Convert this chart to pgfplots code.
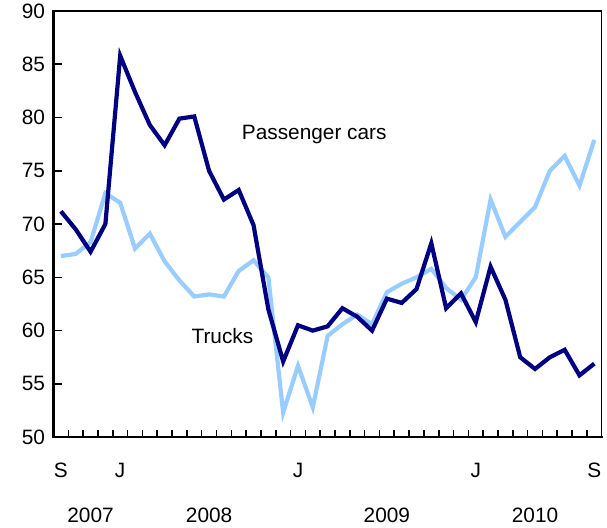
\documentclass[border=0pt]{standalone}
\usepackage{fontspec}
\setmainfont{Liberation Sans}
\usepackage{pgfplots}
\pgfplotsset{compat=1.18}
\definecolor{cars}{RGB}{0,0,128}
\definecolor{trucks}{RGB}{153,204,255}
\begin{document}
\begin{tikzpicture}
\begin{axis}[
  scale only axis,
  width=548pt, height=426pt,
  xmin=-0.5, xmax=36.5,
  ymin=50, ymax=90,
  ytick={50,55,...,90},
  xtick={0,4,16,28,36},
  xticklabels={S,J,J,J,S},
  minor xtick={0.5,1.5,...,35.5},
  major x tick style={draw=none},
  tick align=inside,
  xtick pos=bottom, ytick pos=left,
  major tick length=8pt,
  minor tick length=7pt,
  tick style={line width=1.6pt, black},
  axis line style={line width=1.3pt},
  font=\fontsize{20.8}{25}\selectfont,
  /pgf/number format/assume math mode=true,
  yticklabel style={xshift=-5pt},
  xticklabel style={yshift=-22pt},
  clip=false,
]
\addplot[trucks, line width=4.2pt] coordinates {
(0,67.0)(1,67.2)(2,68.3)(3,72.9)(4,72.0)(5,67.7)(6,69.1)(7,66.5)(8,64.7)(9,63.2)
(10,63.4)(11,63.2)(12,65.6)(13,66.6)(14,65.0)(15,52.3)(16,56.7)(17,52.8)(18,59.5)(19,60.6)
(20,61.5)(21,60.6)(22,63.6)(23,64.4)(24,65.0)(25,65.8)(26,64.0)(27,62.9)(28,65.0)(29,72.3)
(30,68.8)(31,70.2)(32,71.6)(33,75.0)(34,76.4)(35,73.6)(36,77.9)
};
\addplot[cars, line width=4.2pt] coordinates {
(0,71.2)(1,69.5)(2,67.4)(3,70.0)(4,85.8)(5,82.4)(6,79.3)(7,77.4)(8,79.9)(9,80.1)
(10,75.0)(11,72.3)(12,73.2)(13,69.9)(14,62.0)(15,57.1)(16,60.5)(17,60.0)(18,60.4)(19,62.1)
(20,61.3)(21,60.0)(22,63.0)(23,62.6)(24,63.9)(25,68.2)(26,62.1)(27,63.5)(28,60.8)(29,66.0)
(30,62.9)(31,57.5)(32,56.4)(33,57.5)(34,58.2)(35,55.8)(36,56.9)
};
\draw[line width=2.7pt, line cap=rect] (rel axis cs:0,1) -- (rel axis cs:0,0) -- (rel axis cs:1,0);
\node at (axis cs:17.1,78.45) {Passenger cars};
\node at (axis cs:10.9,59.5) {Trucks};
\node at (axis cs:2,50) [yshift=-78pt] {2007};
\node at (axis cs:10,50) [yshift=-78pt] {2008};
\node at (axis cs:22,50) [yshift=-78pt] {2009};
\node at (axis cs:32,50) [yshift=-78pt] {2010};
\path (rel axis cs:0,0) ++(-53.5pt,-90pt) coordinate (bl);
\path (rel axis cs:1,1) ++(5.3pt,11pt) coordinate (tr);
\path (bl) rectangle (tr);
\end{axis}
\end{tikzpicture}
\end{document}
